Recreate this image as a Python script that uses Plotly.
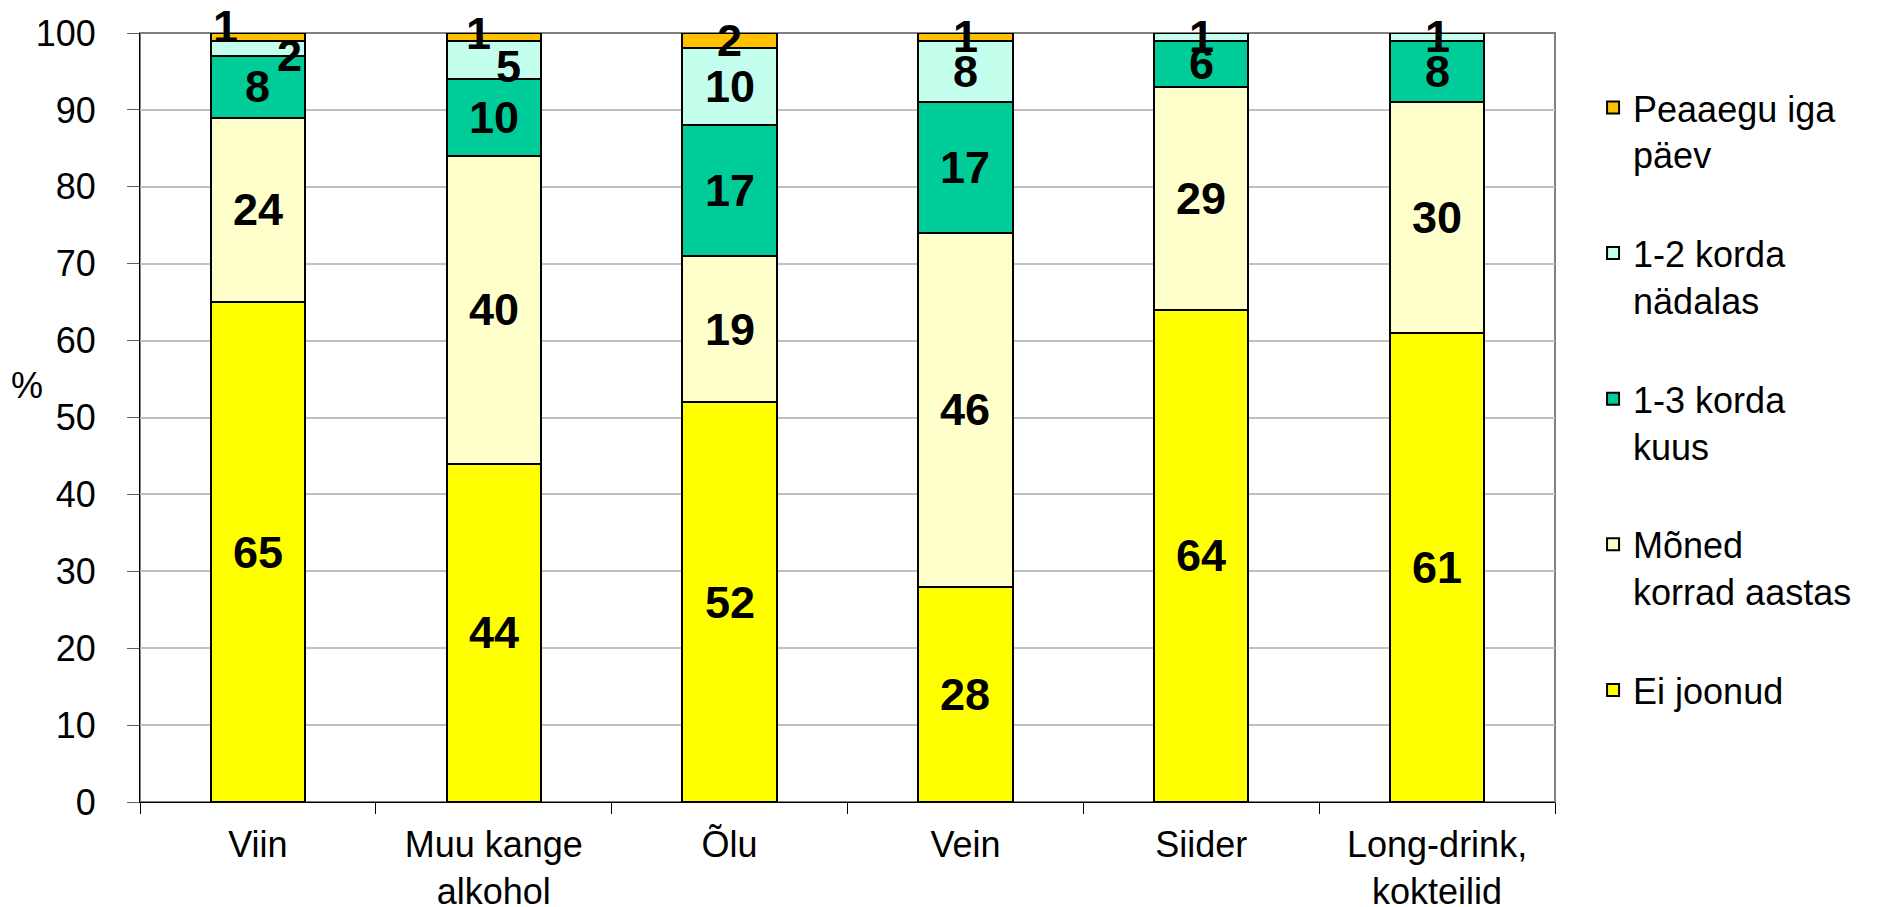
import plotly.graph_objects as go

categories = ["Viin", "Muu kange<br>alkohol", "Õlu", "Vein", "Siider", "Long-drink,<br>kokteilid"]
series_names = ["Ei joonud", "Mõned<br>korrad aastas", "1-3 korda<br>kuus", "1-2 korda<br>nädalas", "Peaaegu iga<br>päev"]
ei_joonud = [65, 44, 52, 28, 64, 61]
moned_korrad = [24, 40, 19, 46, 29, 30]
kuus_1_3 = [8, 10, 17, 17, 6, 8]
nadalas_1_2 = [2, 5, 10, 8, 1, 1]
peaaegu_iga = [1, 1, 2, 1, 0, 0]
series_values = [ei_joonud, moned_korrad, kuus_1_3, nadalas_1_2, peaaegu_iga]
colors = ["#FFFF00", "#FFFFCC", "#00CC99", "#C4FFEE", "#FFC000"]
y_ticks = [0, 10, 20, 30, 40, 50, 60, 70, 80, 90, 100]

# manual label nudges (series index, category index) -> (xshift, yshift) in px
label_nudges = {(4, 0): (-32, 10), (3, 0): (32, -7), (4, 1): (-15, 3), (3, 1): (15, -7)}

FONT = "Liberation Sans, Arial, sans-serif"

fig = go.Figure()
n = len(series_names)
for i, (name, vals, col) in enumerate(zip(series_names, series_values, colors)):
    fig.add_trace(go.Bar(
        x=categories, y=vals, name=name, legendgroup=f"g{i}", legendrank=n - i,
        marker=dict(color=col, line=dict(color="black", width=2)),
        hoverinfo="x+y+name",
    ))

annotations = []
base = [0] * len(categories)
for si, vals in enumerate(series_values):
    for ci, v in enumerate(vals):
        if v > 0:
            xs, ys = label_nudges.get((si, ci), (0, 0))
            annotations.append(dict(
                x=categories[ci], y=base[ci] + v / 2, xref="x", yref="y",
                text=f"<b>{v}</b>", showarrow=False, xshift=xs, yshift=ys,
                font=dict(family=FONT, size=45, color="black"),
                xanchor="center", yanchor="middle",
            ))
        base[ci] += v

annotations.append(dict(
    x=-0.0799, y=0.541, xref="paper", yref="paper", text="%", showarrow=False,
    font=dict(family=FONT, size=36, color="black"), xanchor="center", yanchor="middle",
))

fig.update_layout(
    width=1894, height=907, autosize=False,
    margin=dict(l=140, r=339, t=33, b=105, pad=0),
    barmode="stack", bargap=0.6,
    plot_bgcolor="white", paper_bgcolor="white",
    font=dict(family=FONT, size=36, color="black"),
    showlegend=True,
    legend=dict(
        x=1.0269, xanchor="left", y=0.942, yanchor="top",
        traceorder="grouped", tracegroupgap=49, valign="top",
        font=dict(family=FONT, size=36, color="black"),
        bgcolor="rgba(0,0,0,0)",
    ),
    annotations=annotations,
    shapes=[dict(type="rect", xref="paper", yref="paper", x0=0, x1=1, y0=0, y1=1,
                 line=dict(color="#808080", width=2), layer="below")],
)
fig.update_xaxes(
    type="category", showgrid=False, showline=True, linecolor="black", linewidth=1,
    ticks="outside", tickson="boundaries", ticklen=11, tickcolor="black", tickwidth=1,
    tickfont=dict(family=FONT, size=36, color="black"), ticklabelstandoff=11,
    automargin=False,
)
fig.update_yaxes(
    range=[0, 100], tickvals=y_ticks, showgrid=True, gridcolor="#C0C0C0", gridwidth=2,
    showline=True, linecolor="black", linewidth=1,
    ticks="outside", ticklen=12, tickcolor="#606060", tickwidth=1,
    tickfont=dict(family=FONT, size=36, color="black"), ticklabelstandoff=24,
    zeroline=False, automargin=False,
)

fig.write_html("out.html", config={"displayModeBar": False},
               post_script="document.body.style.margin='0';document.body.style.overflow='hidden';")
